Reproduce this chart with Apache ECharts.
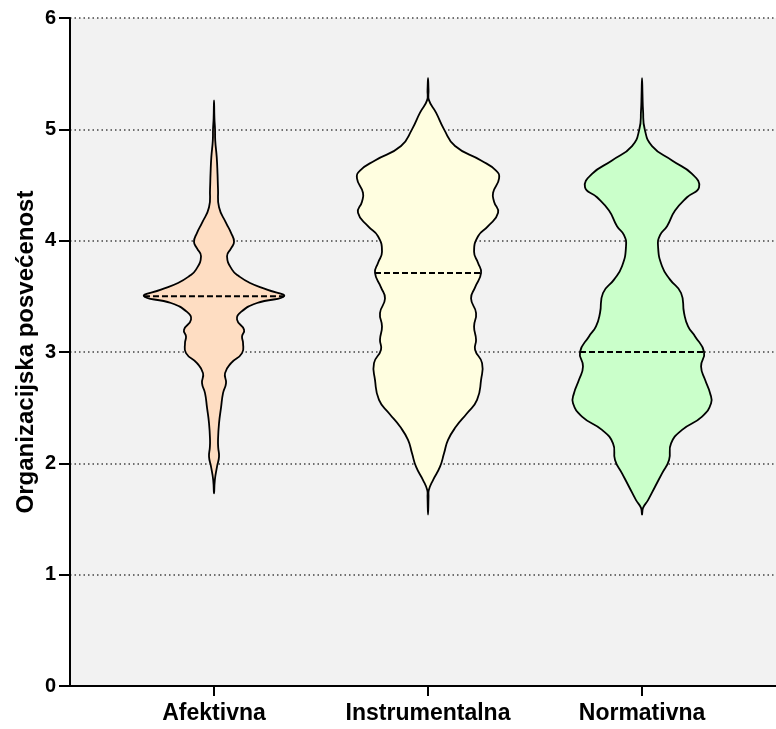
<!DOCTYPE html>
<html><head><meta charset="utf-8">
<script src="https://cdn.jsdelivr.net/npm/echarts@6/dist/echarts.min.js"></script>
<style>html,body{margin:0;padding:0;background:#fff}#c{width:776px;height:729px}</style>
</head><body><div id="c"></div>
<script>
const categories = ['Afektivna', 'Instrumentalna', 'Normativna'];
const yTicks = [0, 1, 2, 3, 4, 5, 6];
const medians = [3.5, 3.71, 3.0];

// Estimated density profiles (value level, relative density)
const afektivnaY = [1.73,1.85,1.97,2.06,2.14,2.21,2.36,2.5,2.63,2.72,2.81,2.9,2.99,3.08,3.14,3.2,3.29,3.36,3.44,3.5,3.56,3.62,3.68,3.74,3.86,3.93,3.99,4.07,4.16,4.3,4.46,4.6,4.75,4.9,5.0,5.1,5.26];
const afektivnaD = [0,0.8,3,5,4.2,4,5,7,9,12,11,17,28,29,28,30,23,27,43,70,53,36,25,18,13,17,20,17,12,5,4,3.5,2.7,1.2,1,0.4,0];

const instrumentalnaY = [1.54,1.7,1.76,1.85,1.97,2.09,2.21,2.33,2.45,2.57,2.75,2.9,3.02,3.11,3.23,3.35,3.48,3.58,3.71,3.8,3.9,4.04,4.13,4.25,4.35,4.43,4.56,4.63,4.72,4.85,5.0,5.15,5.26,5.35,5.46];
const instrumentalnaD = [0,0.5,0.8,5,12,16,20,28,39,49,53,54,47,48,46,48,43,47,53,50,46,50,60,70,66,65,71,68,53,27,16,8,1,0.5,0];

const normativnaY = [1.54,1.6,1.67,1.79,1.91,2.03,2.18,2.3,2.42,2.54,2.63,2.75,2.87,3.0,3.14,3.23,3.35,3.53,3.65,3.77,3.95,4.05,4.13,4.27,4.39,4.48,4.6,4.72,4.85,5.0,5.17,5.3,5.46];
const normativnaD = [0,1,6,13,20,27,29,40,60,69,68,63,59,62,53,46,42,39,28,20,16,18,25,33,45,57,50,30,10,2.7,1,0.5,0];

const levels = [afektivnaY, instrumentalnaY, normativnaY];
const densities = [afektivnaD, instrumentalnaD, normativnaD];
const fills = ['#FEDDC2', '#FFFEE0', '#CAFFCA'];

const maxHalfWidth = 0.332; // in x-axis units
const globalMax = Math.max(...densities.map(d => Math.max(...d)));

function densityAt(lv, dn, v) {
  for (let k = 0; k < lv.length - 1; k++) {
    if (v >= lv[k] && v <= lv[k + 1]) {
      const t = (v - lv[k]) / (lv[k + 1] - lv[k]);
      return dn[k] + t * (dn[k + 1] - dn[k]);
    }
  }
  return 0;
}

const chart = echarts.init(document.getElementById('c'), null, {renderer: 'canvas'});
const font = 'Liberation Sans, Arial, sans-serif';

chart.setOption({
  animation: false,
  backgroundColor: '#ffffff',
  grid: {left: 70, right: 0, top: 18, bottom: 43, show: true, backgroundColor: '#F2F2F2', borderWidth: 0},
  xAxis: {
    type: 'value', min: 0.327, max: 3.626,
    axisLine: {show: true, onZero: false, lineStyle: {color: '#000', width: 2}},
    axisTick: {show: true, customValues: [1, 2, 3], length: 10, lineStyle: {color: '#000', width: 2}},
    axisLabel: {customValues: [1, 2, 3], formatter: v => categories[Math.round(v) - 1] || '',
      color: '#000', fontSize: 23, fontWeight: 'bold', fontFamily: font, margin: 16},
    splitLine: {show: false}
  },
  yAxis: {
    type: 'value', min: 0, max: 6, interval: 1,
    name: 'Organizacijska posvećenost', nameLocation: 'middle', nameGap: 32, nameMoveOverlap: false,
    nameTextStyle: {color: '#000', fontSize: 24, fontFamily: font, fontWeight: 'bold'},
    axisLine: {show: true, lineStyle: {color: '#000', width: 2}},
    axisTick: {show: true, length: 11, lineStyle: {color: '#000', width: 2}},
    axisLabel: {color: '#000', fontSize: 20, fontWeight: 'bold', fontFamily: font, margin: 14,
      formatter: v => yTicks.includes(v) ? String(v) : ''},
    splitLine: {show: true, lineStyle: {color: '#444', width: 1.5, type: [1.5, 3]}}
  },
  series: [{
    type: 'custom',
    data: categories.map((c, i) => [i + 1, medians[i]]),
    clip: true,
    renderItem: (params, api) => {
      const i = params.dataIndex;
      const lv = levels[i], dn = densities[i];
      const cx = i + 1;
      const sc = maxHalfWidth / globalMax;
      const pts = [];
      for (let k = 0; k < lv.length; k++) pts.push(api.coord([cx + dn[k] * sc, lv[k]]));
      for (let k = lv.length - 2; k >= 1; k--) pts.push(api.coord([cx - dn[k] * sc, lv[k]]));
      const m = medians[i];
      const w = densityAt(lv, dn, m) * sc;
      const p1 = api.coord([cx - w, m]), p2 = api.coord([cx + w, m]);
      return {
        type: 'group',
        children: [
          {type: 'polygon', shape: {points: pts, smooth: 0.5},
            style: {fill: fills[i], stroke: '#000', lineWidth: 1.8}},
          {type: 'line', shape: {x1: p1[0], y1: p1[1], x2: p2[0], y2: p2[1]},
            style: {stroke: '#000', lineWidth: 2, lineDash: [6, 3]}}
        ]
      };
    }
  }]
});
</script>
</body></html>
